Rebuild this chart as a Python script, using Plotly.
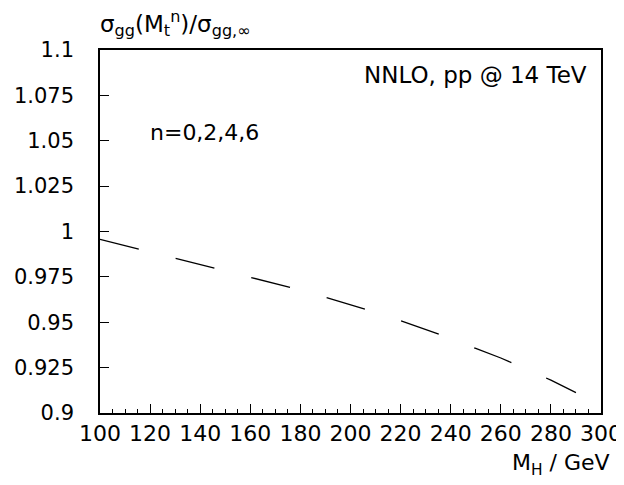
import plotly.graph_objects as go

m_h = [100, 110, 120, 130, 140, 150, 160, 170, 180, 190,
       200, 210, 220, 230, 240, 250, 260, 270, 280, 290]
ratio = [0.9957, 0.9922, 0.9887, 0.9852, 0.9819, 0.9786, 0.9751, 0.9716, 0.9678, 0.9638,
         0.9597, 0.9554, 0.9509, 0.9461, 0.9411, 0.9356, 0.9303, 0.9243, 0.9181, 0.9112]

x_range = [100, 300]
y_range = [0.9, 1.1]

FONT = "DejaVu Sans, Liberation Sans, sans-serif"

fig = go.Figure()
fig.add_trace(go.Scatter(x=m_h, y=ratio, mode="lines",
                         line=dict(color="black", width=1.3, dash="40px,38px"),
                         showlegend=False))

fig.update_xaxes(range=x_range, tick0=100, dtick=20, tickmode="linear",
                 showline=True, linecolor="black", linewidth=1.5, mirror=True,
                 ticks="inside", ticklen=9, tickwidth=1, tickcolor="black",
                 minor=dict(dtick=5, ticks="inside", ticklen=4.5, tickcolor="black"),
                 showgrid=False, zeroline=False, automargin=False,
                 tickfont=dict(family=FONT, size=22, color="black"))
fig.update_yaxes(range=y_range, tick0=0.9, dtick=0.025, tickformat=".3~f", tickmode="linear",
                 ticksuffix="\u00a0\u00a0\u00a0",
                 showline=True, linecolor="black", linewidth=1.5, mirror=True,
                 ticks="inside", ticklen=9, tickwidth=1, tickcolor="black",
                 showgrid=False, zeroline=False, automargin=False,
                 tickfont=dict(family=FONT, size=21, color="black"))

ann_font = dict(family=FONT, size=23, color="black")
fig.add_annotation(text="σ<sub>gg</sub>(M<sub>t</sub><sup>n</sup>)/σ<sub>gg,∞</sub>",
                   xref="paper", yref="paper", x=0, y=1.0, xanchor="left", yanchor="bottom",
                   showarrow=False, font=ann_font, xshift=-2, yshift=8)
fig.add_annotation(text="NNLO, pp @ 14 TeV", xref="paper", yref="paper",
                   x=0.977, y=0.931, xanchor="right", yanchor="middle",
                   showarrow=False, font=ann_font)
fig.add_annotation(text="n=0,2,4,6", xref="paper", yref="paper",
                   x=0.095, y=0.772, xanchor="left", yanchor="middle",
                   showarrow=False, font=dict(family=FONT, size=22, color="black"))
fig.add_annotation(text="M<sub>H</sub> / GeV", xref="paper", yref="paper",
                   x=1.0, y=0, xanchor="right", yanchor="top",
                   showarrow=False, font=dict(family=FONT, size=22, color="black"),
                   yshift=-35, xshift=11)

fig.update_layout(width=616, height=477, plot_bgcolor="white", paper_bgcolor="white",
                  margin=dict(l=92, r=23, t=42, b=72))

fig.write_html("out.html")
